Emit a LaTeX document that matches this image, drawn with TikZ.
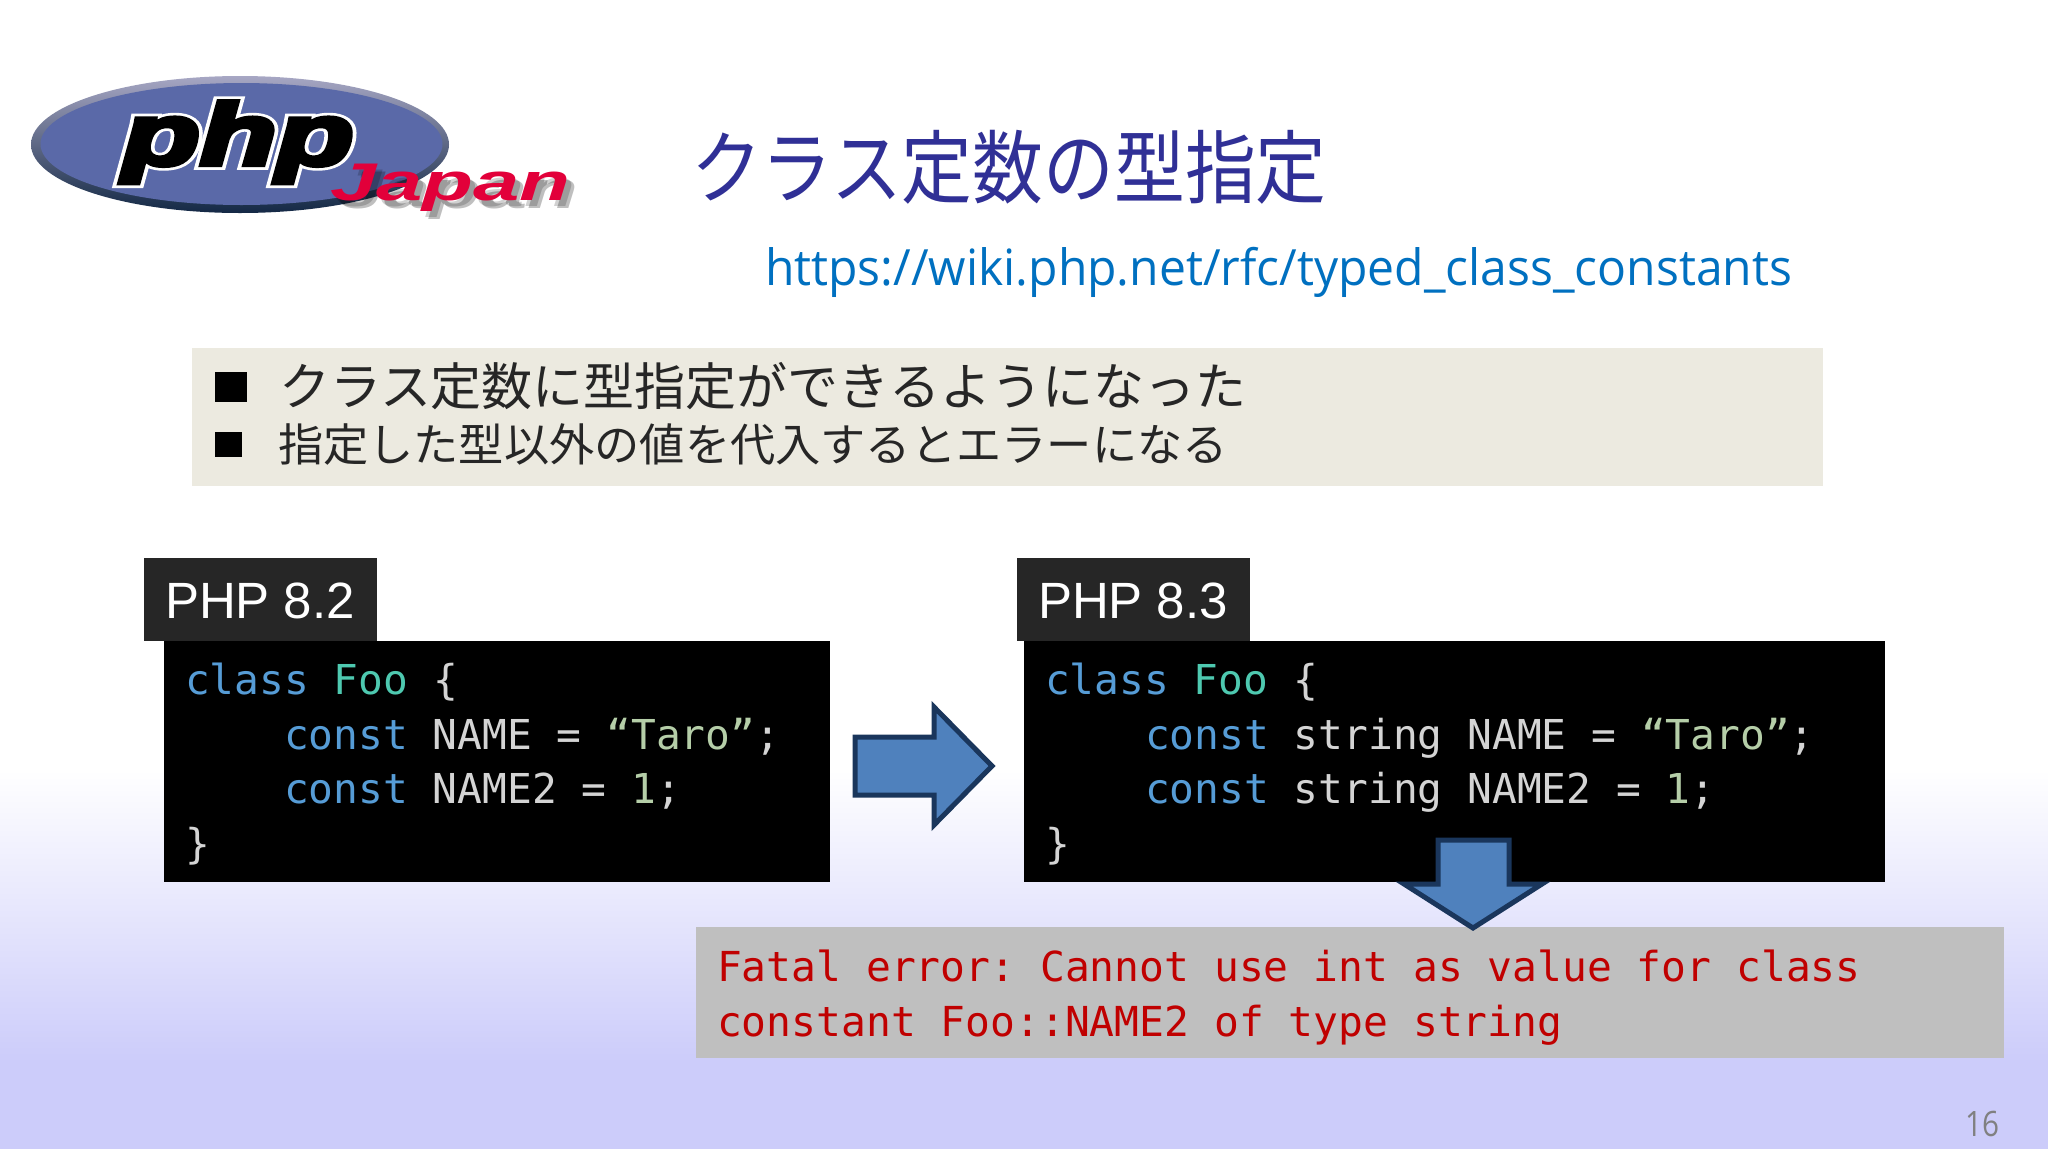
\documentclass[tikz,border=0pt]{standalone}
\usepackage{fontspec}
\usepackage{graphicx}
\usetikzlibrary{shapes.geometric}
\setmainfont{Liberation Sans}
\newfontfamily\cjk{Noto Sans CJK JP}
\newfontfamily\codefont{DejaVu Sans Mono}
\newfontfamily\urlfont{Open Sans}
\newfontfamily\logofont[FakeBold=5]{Liberation Sans Bold Italic}
\newfontfamily\logohalo[FakeBold=11]{Liberation Sans Bold Italic}
\newfontfamily\japanfont{Liberation Sans Bold Italic}
\definecolor{lav}{RGB}{204,204,250}
\definecolor{titleblue}{RGB}{48,48,150}
\definecolor{urlblue}{RGB}{0,112,192}
\definecolor{beige}{RGB}{236,234,224}
\definecolor{lblbg}{RGB}{38,38,38}
\definecolor{kw}{RGB}{86,156,214}
\definecolor{cls}{RGB}{78,201,176}
\definecolor{txt}{RGB}{212,212,212}
\definecolor{lit}{RGB}{181,206,168}
\definecolor{arrowfill}{RGB}{79,129,189}
\definecolor{arrowline}{RGB}{26,54,92}
\definecolor{errbg}{RGB}{191,191,191}
\definecolor{errred}{RGB}{192,0,0}
\definecolor{logoblue}{RGB}{90,105,168}
\definecolor{japred}{RGB}{226,0,58}
\frenchspacing
\newcommand{\fs}[1]{\fontsize{#1}{#1}\selectfont}
\newcommand{\kwd}[1]{\textcolor{kw}{#1}}
\newcommand{\tx}[1]{\textcolor{txt}{#1}}
\newcommand{\lt}[1]{\textcolor{lit}{#1}}
\newcommand{\phptext}{\scalebox{1.43}[1]{\logofont\fs{88}php}}
\newcommand{\phphalo}{\scalebox{1.43}[1]{\logohalo\fs{88}php}}
\newcommand{\japantext}{\scalebox{1.57}[1]{\japanfont\fs{53}Japan}}
\tikzset{
  x=1pt,y=-1pt,
  txtnode/.style={inner sep=0pt,outer sep=0pt,anchor=base west},
  codeline/.style={txtnode,font=\codefont\fs{41.2}},
  errline/.style={txtnode,font=\codefont\fs{41.3},text=errred},
  bulletline/.style={txtnode,font=\cjk,text=black!85},
  verlabel/.style={txtnode,font=\fs{51},text=white},
  blockarrow/.style={fill=arrowfill,draw=arrowline,line width=5pt,miter limit=10},
  bulletsq/.style={fill=black},
}
\begin{document}
\begin{tikzpicture}
\useasboundingbox (0,0) rectangle (2048,1152);
% background
\fill[white] (0,0) rectangle (2048,1152);
\shade[top color=white,bottom color=lav] (0,770) rectangle (2048,1062);
\fill[lav] (0,1061) rectangle (2048,1149);

% logo
\shade[top color=black!10!lav!70!gray,bottom color=arrowline!75!black] (240,144.5) ellipse [x radius=209,y radius=68.5];
\fill[logoblue] (241.5,144) ellipse [x radius=201,y radius=61];
\node[txtnode,text=white] (phphalo) at (123,165) {\phphalo};
\node[txtnode,text=black] (phpword) at (123,165) {\phptext};
\node[txtnode,text=black,opacity=.18] (japanshadowa) at (335,206) {\japantext};
\node[txtnode,text=black,opacity=.25] (japanshadowb) at (338,208) {\japantext};
\node[txtnode,text=japred] (japanword) at (330,200) {\japantext};

% title and url
\node[txtnode,font=\cjk\fs{80},text=titleblue] (title) at (691,197) {\scalebox{0.885}[1]{クラス定数の型指定}};
\node[txtnode,font=\urlfont\fs{50},text=urlblue] (url) at (765,285) {\scalebox{0.961}[1]{https://wiki.php.net/rfc/typed\_class\_constants}};

% bullets box
\fill[beige] (192,348) rectangle (1823,486);
\fill[bulletsq] (215,372) rectangle (247,402);
\fill[bulletsq] (215,432) rectangle (242,457);
\node[bulletline] (b1) at (279,405) {\fs{51}クラス定数に型指定ができるようになった};
\node[bulletline] (b2) at (278,461) {\fs{45}\scalebox{1.005}[1]{指定した型以外の値を代入するとエラーになる}};

% left code
\fill[lblbg] (144,558) rectangle (377,641);
\node[verlabel] (v82) at (165,618) {PHP 8.2};
\fill[black] (164,641) rectangle (830,882);
\node[codeline] (l1) at (185,694) {\kwd{class} \textcolor{cls}{Foo} \tx{\{}};
\node[codeline] (l2) at (284,749) {\kwd{const} \tx{NAME =} \lt{“Taro”}\tx{;}};
\node[codeline] (l3) at (284,803) {\kwd{const} \tx{NAME2 =} \lt{1}\tx{;}};
\node[codeline] (l4) at (185,858) {\tx{\}}};

% right code
\fill[lblbg] (1017,558) rectangle (1250,641);
\node[verlabel] (v83) at (1038,618) {PHP 8.3};
\fill[black] (1024,641) rectangle (1885,882);
\node[codeline] (r1) at (1045,694) {\kwd{class} \textcolor{cls}{Foo} \tx{\{}};
\node[codeline] (r2) at (1145,749) {\kwd{const} \tx{string NAME =} \lt{“Taro”}\tx{;}};
\node[codeline] (r3) at (1145,803) {\kwd{const} \tx{string NAME2 =} \lt{1}\tx{;}};
\node[codeline] (r4) at (1045,858) {\tx{\}}};

% right arrow
\draw[blockarrow] (855,737) -- (934,737) -- (934,707) -- (992,766) -- (934,825) -- (934,795) -- (855,795) -- cycle;

% error box
\fill[errbg] (696,927) rectangle (2004,1058);
\node[errline] (e1) at (717,981) {Fatal error: Cannot use int as value for class};
\node[errline] (e2) at (717,1036) {constant Foo::NAME2 of type string};

% down arrow
\draw[blockarrow] (1438,840) -- (1509,840) -- (1509,884) -- (1542,884) -- (1473,928) -- (1404,884) -- (1438,884) -- cycle;

% page number
\node[txtnode,font=\urlfont\fs{35},text=black!50] (page) at (1965,1136) {\scalebox{0.85}[1]{16}};
\end{tikzpicture}
\end{document}
